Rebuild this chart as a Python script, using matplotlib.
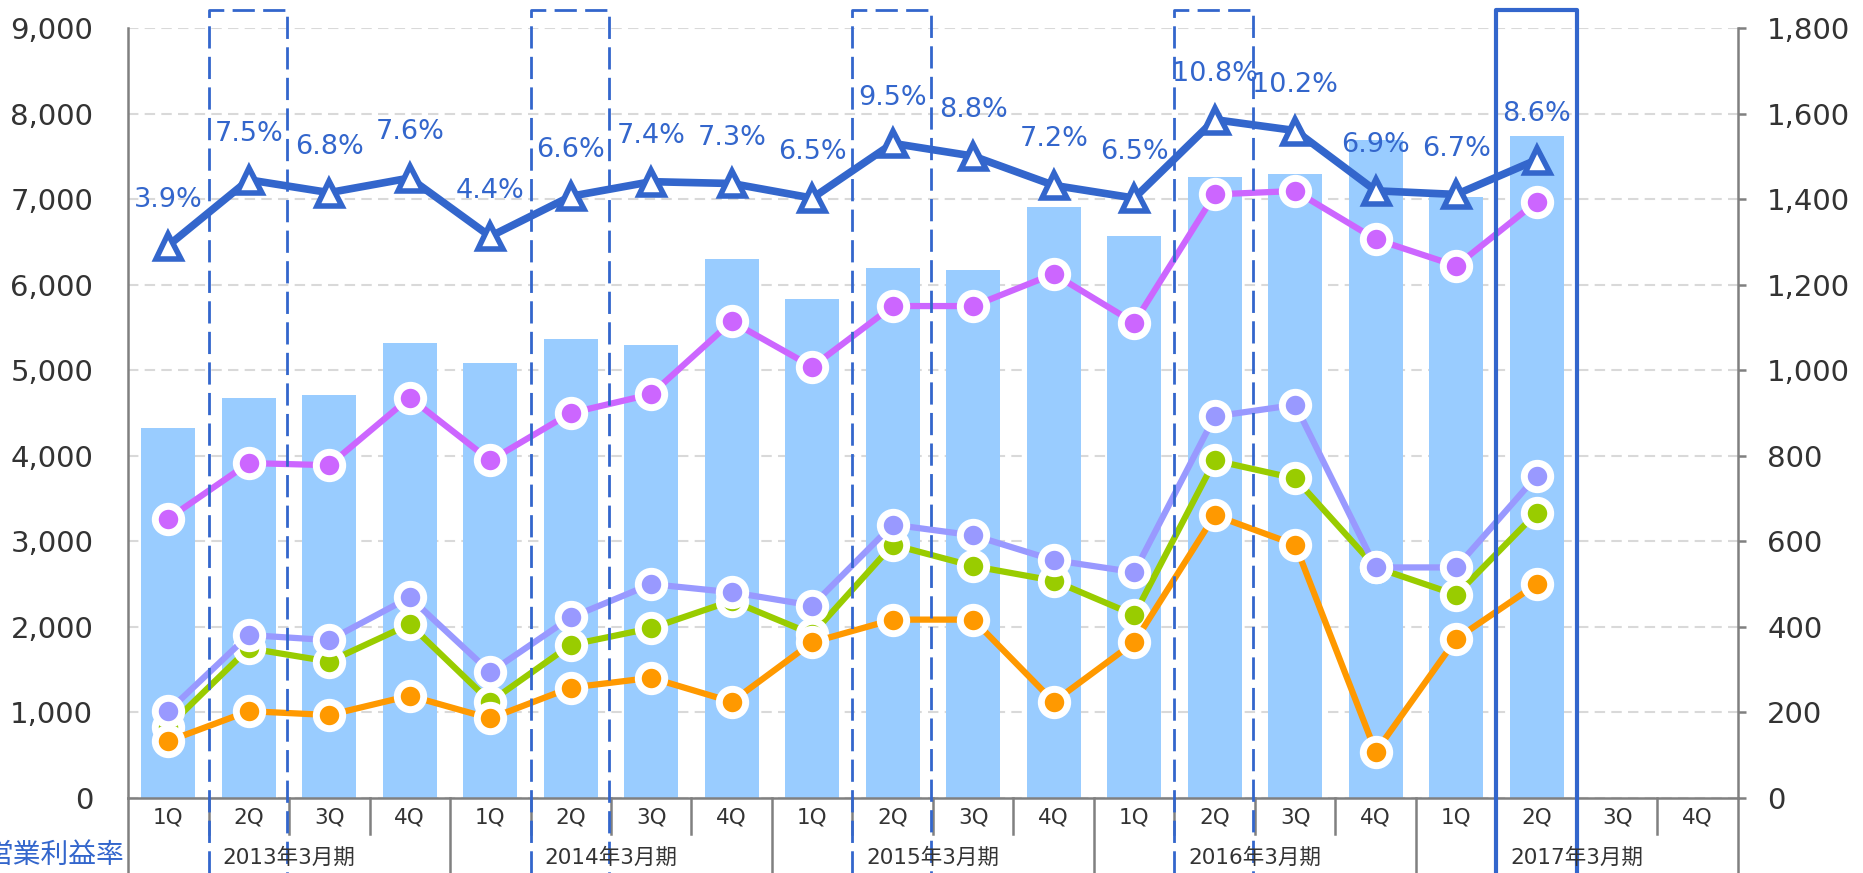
import matplotlib
matplotlib.use("Agg")
import matplotlib.pyplot as plt
from matplotlib.lines import Line2D
from matplotlib.transforms import blended_transform_factory

# ---- data ----
quarters = ["1Q", "2Q", "3Q", "4Q"] * 5
years = ["2013年3月期", "2014年3月期", "2015年3月期", "2016年3月期", "2017年3月期"]
sales = [4330, 4680, 4710, 5320, 5080, 5360, 5290, 6300, 5830, 6190,
         6170, 6910, 6570, 7260, 7290, 7690, 7020, 7740]
purple = [653, 783, 778, 936, 789, 900, 944, 1114, 1008, 1150,
          1150, 1225, 1111, 1411, 1419, 1306, 1244, 1394]
lavender = [203, 381, 369, 469, 294, 422, 500, 481, 450, 639,
            614, 556, 528, 892, 919, 539, 539, 753]
green = [167, 350, 319, 406, 225, 358, 397, 461, 383, 592,
         542, 508, 428, 789, 747, 539, 475, 667]
orange = [133, 203, 194, 239, 186, 258, 281, 225, 364, 417,
          417, 225, 364, 661, 592, 108, 372, 500]
margin = [3.9, 7.5, 6.8, 7.6, 4.4, 6.6, 7.4, 7.3, 6.5, 9.5,
          8.8, 7.2, 6.5, 10.8, 10.2, 6.9, 6.7, 8.6]
margin_label = "営業利益率"
dashed_boxes = [1, 5, 9, 13]
solid_box = 17

W, H = 1863, 873
fig = plt.figure(figsize=(W / 100, H / 100), dpi=100)
plt.rcParams['font.family'] = ['DejaVu Sans', 'Noto Sans CJK JP']

L, R, T, B = 128, 1738, 28, 798
ax = fig.add_axes([L / W, (H - B) / H, (R - L) / W, (B - T) / H])
n = len(quarters)
xs = list(range(len(sales)))

ax.bar(xs, sales, width=0.67, color="#99CCFF", zorder=2)
ax.set_xlim(-0.5, n - 0.5)
ax.set_ylim(0, 9000)
ax.set_yticks(range(0, 9001, 1000))
ax.set_yticklabels([f"{v:,}" for v in range(0, 9001, 1000)])
ax.set_axisbelow(True)
ax.yaxis.grid(True, color="#D9D9D9", linestyle=(0, (5, 3)), linewidth=1.5)
ax.tick_params(axis="y", length=0, pad=25, labelsize=21, labelcolor="#333333")
ax.set_xticks(range(n))
ax.set_xticklabels(quarters)
ax.tick_params(axis="x", length=0, pad=7, labelsize=15.5, labelcolor="#333333")
for s in ["top", "right"]:
    ax.spines[s].set_visible(False)
for s in ["left", "bottom"]:
    ax.spines[s].set_color("#808080")
    ax.spines[s].set_linewidth(1.8)

ax2 = ax.twinx()
ax2.set_ylim(0, 1800)
ax2.set_yticks(range(0, 1801, 200))
ax2.set_yticklabels([f"{v:,}" for v in range(0, 1801, 200)])
ax2.tick_params(axis="y", length=6, width=1.8, color="#808080", pad=15,
                labelsize=21, labelcolor="#333333")
for s in ["top", "left", "bottom"]:
    ax2.spines[s].set_visible(False)
ax2.spines["right"].set_color("#808080")
ax2.spines["right"].set_linewidth(1.8)

mk = dict(marker="o", markersize=19, markeredgecolor="white", markeredgewidth=5,
          linewidth=4.5)
ax2.plot(xs, green, color="#99CC00", zorder=2, **mk)
ax2.plot(xs, orange, color="#FF9900", zorder=3, **mk)
ax2.plot(xs, lavender, color="#9999FF", zorder=4, **mk)
ax2.plot(xs, purple, color="#CC66FF", zorder=5, **mk)

ax3 = ax.twinx()
ax3.set_ylim(-26.37, 15.82)
ax3.axis("off")
ax3.plot(xs, margin, color="#3366CC", linewidth=5.5, marker="^", markersize=18,
         markerfacecolor="white", markeredgecolor="#3366CC", markeredgewidth=4,
         zorder=5)
for x, m in zip(xs, margin):
    ax3.annotate(f"{m}%", (x, m), xytext=(0, 33), textcoords="offset points",
                 ha="center", va="center", fontsize=19.5, color="#3366CC")

# category separators below the axis
tr = blended_transform_factory(ax.transData, fig.transFigure)
yb = (H - B) / H
for k in range(n + 1):
    x = k - 0.5
    y_end = 0 if k % 4 == 0 else (H - 834) / H
    fig.add_artist(Line2D([x, x], [yb, y_end], transform=tr, color="#808080",
                          linewidth=1.8))
for g, yr in enumerate(years):
    fig.text(4 * g + 1.5, (H - 858) / H, yr, transform=tr, ha="center",
             va="center", fontsize=15.5, color="#333333")

fig.text(124 / W, (H - 855) / H, margin_label, ha="right", va="center",
         fontsize=20, color="#3366CC", family=["Noto Sans CJK JP", "DejaVu Sans"])

# highlight boxes
top = 1 - 10 / H
for i in dashed_boxes:
    x0, x1 = i - 0.5, i + 0.47
    fig.add_artist(Line2D([x0, x0, x1, x1], [0, top, top, 0], transform=tr,
                          color="#3366CC", linewidth=2, linestyle=(0, (8, 3))))
x0, x1 = solid_box - 0.5, solid_box + 0.5
fig.add_artist(Line2D([x0, x0, x1, x1], [0, top, top, 0], transform=tr,
                      color="#3366CC", linewidth=3))

fig.savefig("out.png", dpi=100)
